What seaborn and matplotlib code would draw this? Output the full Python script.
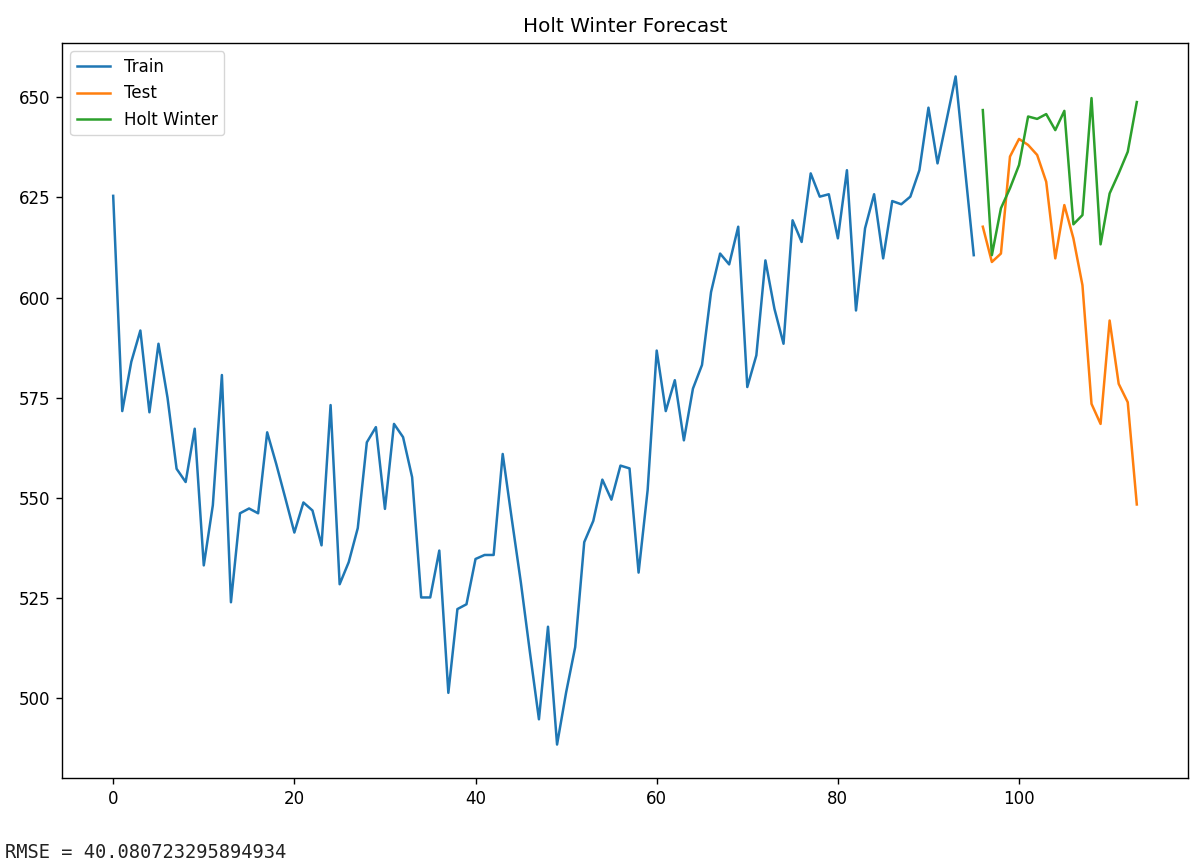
import numpy as np
import matplotlib
matplotlib.use('Agg')
import matplotlib.pyplot as plt
import seaborn as sns

# series
train = [625.4, 571.7, 584.0, 591.8, 571.4, 588.5, 575.0, 557.3, 554.0, 567.3,
         533.2, 548.2, 580.7, 524.0, 546.2, 547.4, 546.2, 566.4, 558.5, 550.0,
         541.4, 548.9, 546.9, 538.2, 573.2, 528.5, 534.0, 542.5, 563.9, 567.7,
         547.3, 568.5, 565.2, 555.2, 525.2, 525.2, 536.9, 501.4, 522.3, 523.5,
         534.8, 535.8, 535.8, 561.0, 544.8, 529.0, 511.6, 494.8, 517.9, 488.5,
         501.5, 512.8, 539.0, 544.3, 554.6, 549.6, 558.1, 557.4, 531.4, 552.0,
         586.8, 571.7, 579.4, 564.4, 577.3, 583.2, 601.4, 611.0, 608.3, 617.7,
         577.7, 585.6, 609.3, 597.2, 588.5, 619.3, 613.9, 631.0, 625.2, 625.8,
         614.8, 631.8, 596.8, 617.3, 625.8, 609.8, 624.1, 623.3, 625.2, 631.8,
         647.4, 633.5, 644.3, 655.2, 632.9, 610.6]
test = [617.7, 608.9, 611.0, 635.2, 639.6, 638.1, 635.6, 628.9, 609.8, 623.1,
        614.8, 603.1, 573.5, 568.5, 594.3, 578.5, 573.9, 548.4]
holt = [646.8, 610.6, 622.3, 627.3, 633.1, 645.2, 644.6, 645.8, 641.8, 646.6,
        618.3, 620.6, 649.8, 613.3, 626.0, 631.0, 636.4, 648.8]
rmse = "RMSE = 40.080723295894934"

train_idx = np.arange(len(train))
test_idx = np.arange(len(train), len(train) + len(test))

# the screenshot is the default style blown up by about 1.2
plt.rcParams.update({
    'font.size': 12,
    'lines.linewidth': 1.8,
    'axes.linewidth': 1.0,
    'xtick.major.size': 4.2,
    'ytick.major.size': 4.2,
    'xtick.major.width': 1.0,
    'ytick.major.width': 1.0,
    'xtick.major.pad': 4.2,
    'ytick.major.pad': 4.2,
})

fig = plt.figure(figsize=(12.04, 8.67), dpi=100)
ax = fig.add_axes([0.0515, 0.1027, 0.9352, 0.8477])

pal = sns.color_palette('tab10')
sns.lineplot(x=train_idx, y=train, ax=ax, color=pal[0], label='Train')
sns.lineplot(x=test_idx, y=test, ax=ax, color=pal[1], label='Test')
sns.lineplot(x=test_idx, y=holt, ax=ax, color=pal[2], label='Holt Winter')

ax.set_title('Holt Winter Forecast', pad=8)
ax.legend(loc='upper left')

fig.text(0.004, 0.0173, rmse, family='DejaVu Sans Mono', fontsize=13.5,
         va='center', color='#222222')

fig.savefig('out.png', dpi=100)
